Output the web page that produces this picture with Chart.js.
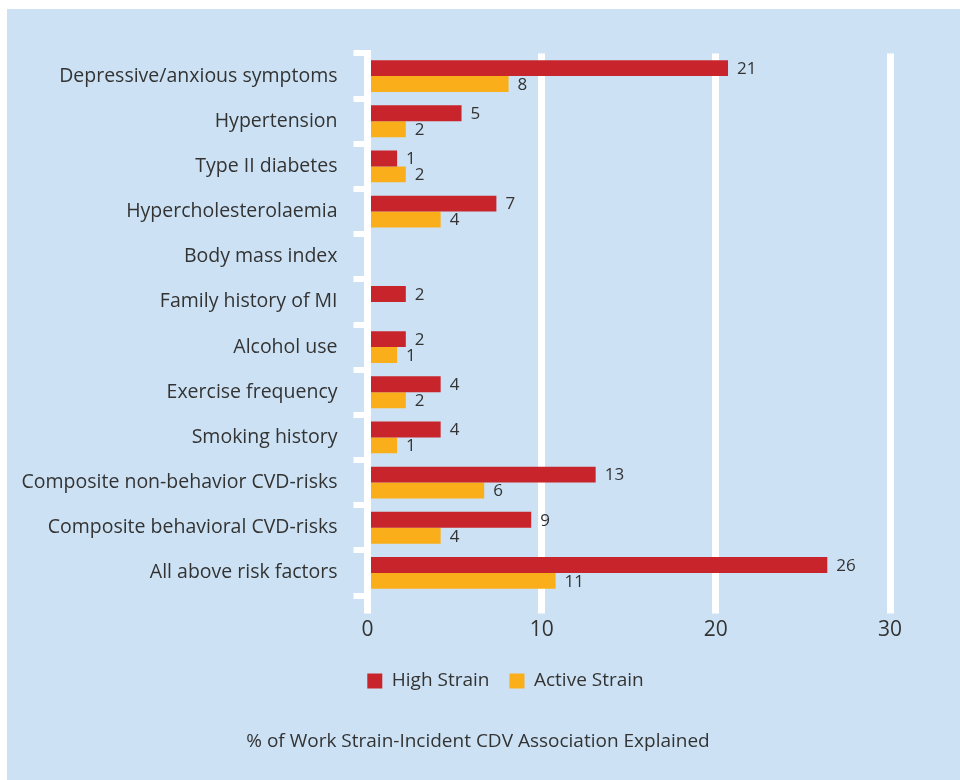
<!DOCTYPE html>
<html>
<head>
<meta charset="utf-8">
<script src="https://cdn.jsdelivr.net/npm/chart.js@4.4.1/dist/chart.umd.min.js"></script>
<style>
  html, body { margin: 0; padding: 0; background: #fff; }
  #wrap { width: 960px; height: 780px; }
</style>
</head>
<body>
<div id="wrap"><canvas id="chart" width="960" height="780"></canvas></div>
<script>
/* data */
const categories = [
  'Depressive/anxious symptoms',
  'Hypertension',
  'Type II diabetes',
  'Hypercholesterolaemia',
  'Body mass index',
  'Family history of MI',
  'Alcohol use',
  'Exercise frequency',
  'Smoking history',
  'Composite non-behavior CVD-risks',
  'Composite behavioral CVD-risks',
  'All above risk factors'
];
const highStrain   = [20.7, 5.4, 1.7, 7.4, null, 2.2, 2.2, 4.2, 4.2, 13.1, 9.4, 26.4];
const activeStrain = [8.1, 2.2, 2.2, 4.2, null, null, 1.7, 2.2, 1.7, 6.7, 4.2, 10.8];
const highLabels   = ['21', '5', '1', '7', '', '2', '2', '4', '4', '13', '9', '26'];
const activeLabels = ['8', '2', '2', '4', '', '', '1', '2', '1', '6', '4', '11'];
const xTicks = [0, 10, 20, 30];
const axisTitle = '% of Work Strain-Incident CDV Association Explained';

const RED = '#c8242b';
const ORANGE = '#f9ae1a';
const PANEL = '#cce2f4';
const INK = '#333333';
const FONT = 'Open Sans';

Chart.defaults.font.family = FONT;
Chart.defaults.color = INK;

// light blue panel behind everything
const panelBg = {
  id: 'panelBg',
  beforeDraw(chart) {
    const { ctx, width, height } = chart;
    ctx.save();
    ctx.fillStyle = '#fff';
    ctx.fillRect(0, 0, width, height);
    ctx.fillStyle = PANEL;
    ctx.fillRect(7, 9, width - 7, height - 9);
    ctx.restore();
  }
};

// the legend in the original sits a bit right of the panel centre
const legendShift = {
  id: 'legendShift',
  afterLayout(chart) {
    const lg = chart.legend;
    if (!lg) return;
    const d = 505.5 - (lg.left + lg.right) / 2;
    lg.left += d;
    lg.right += d;
  }
};

// numbers at the end of each bar
const valueLabels = {
  id: 'valueLabels',
  afterDatasetsDraw(chart) {
    const { ctx } = chart;
    const texts = [highLabels, activeLabels];
    ctx.save();
    ctx.font = `17px "${FONT}"`;
    ctx.fillStyle = INK;
    ctx.textAlign = 'left';
    ctx.textBaseline = 'middle';
    chart.data.datasets.forEach((ds, di) => {
      chart.getDatasetMeta(di).data.forEach((bar, i) => {
        if (ds.data[i] == null || !texts[di][i]) return;
        ctx.fillText(texts[di][i], bar.x + 9, bar.y + 1);
      });
    });
    ctx.restore();
  }
};

// axis caption under the legend, centred on the panel
const bottomTitle = {
  id: 'bottomTitle',
  afterDraw(chart) {
    const { ctx } = chart;
    ctx.save();
    ctx.font = `19px "${FONT}"`;
    ctx.fillStyle = INK;
    ctx.textAlign = 'center';
    ctx.textBaseline = 'middle';
    ctx.fillText(axisTitle, 478, 742);
    ctx.restore();
  }
};

new Chart(document.getElementById('chart'), {
  type: 'bar',
  data: {
    labels: categories,
    datasets: [
      {
        label: 'High Strain',
        data: highStrain,
        backgroundColor: RED,
        borderWidth: 0
      },
      {
        label: 'Active Strain',
        data: activeStrain,
        backgroundColor: ORANGE,
        borderWidth: 0
      }
    ]
  },
  options: {
    indexAxis: 'y',
    responsive: false,
    animation: false,
    barPercentage: 1,
    categoryPercentage: 0.706,
    layout: {
      padding: { left: 16, right: 70, top: 53.5, bottom: 79.5 }
    },
    plugins: {
      legend: {
        position: 'bottom',
        labels: {
          boxWidth: 15,
          boxHeight: 15,
          padding: 20,
          color: INK,
          font: { family: FONT, size: 19 }
        }
      },
      tooltip: { enabled: false }
    },
    scales: {
      x: {
        min: 0,
        max: 30,
        afterBuildTicks: s => { s.ticks = xTicks.map(v => ({ value: v })); },
        afterFit: s => { s.height = 56; },
        grid: { color: '#fff', lineWidth: 7, tickLength: 18 },
        border: { display: false },
        ticks: { color: INK, font: { size: 21 }, padding: 4 }
      },
      y: {
        z: 1,
        afterFit: s => { s.width = 351.5; },
        grid: {
          offset: true,
          drawOnChartArea: false,
          color: '#fff',
          lineWidth: 6,
          tickLength: 14
        },
        border: { display: true, color: '#fff', width: 7 },
        ticks: { color: INK, font: { size: 19.5 }, padding: 16 }
      }
    }
  },
  plugins: [panelBg, legendShift, valueLabels, bottomTitle]
});
</script>
</body>
</html>
